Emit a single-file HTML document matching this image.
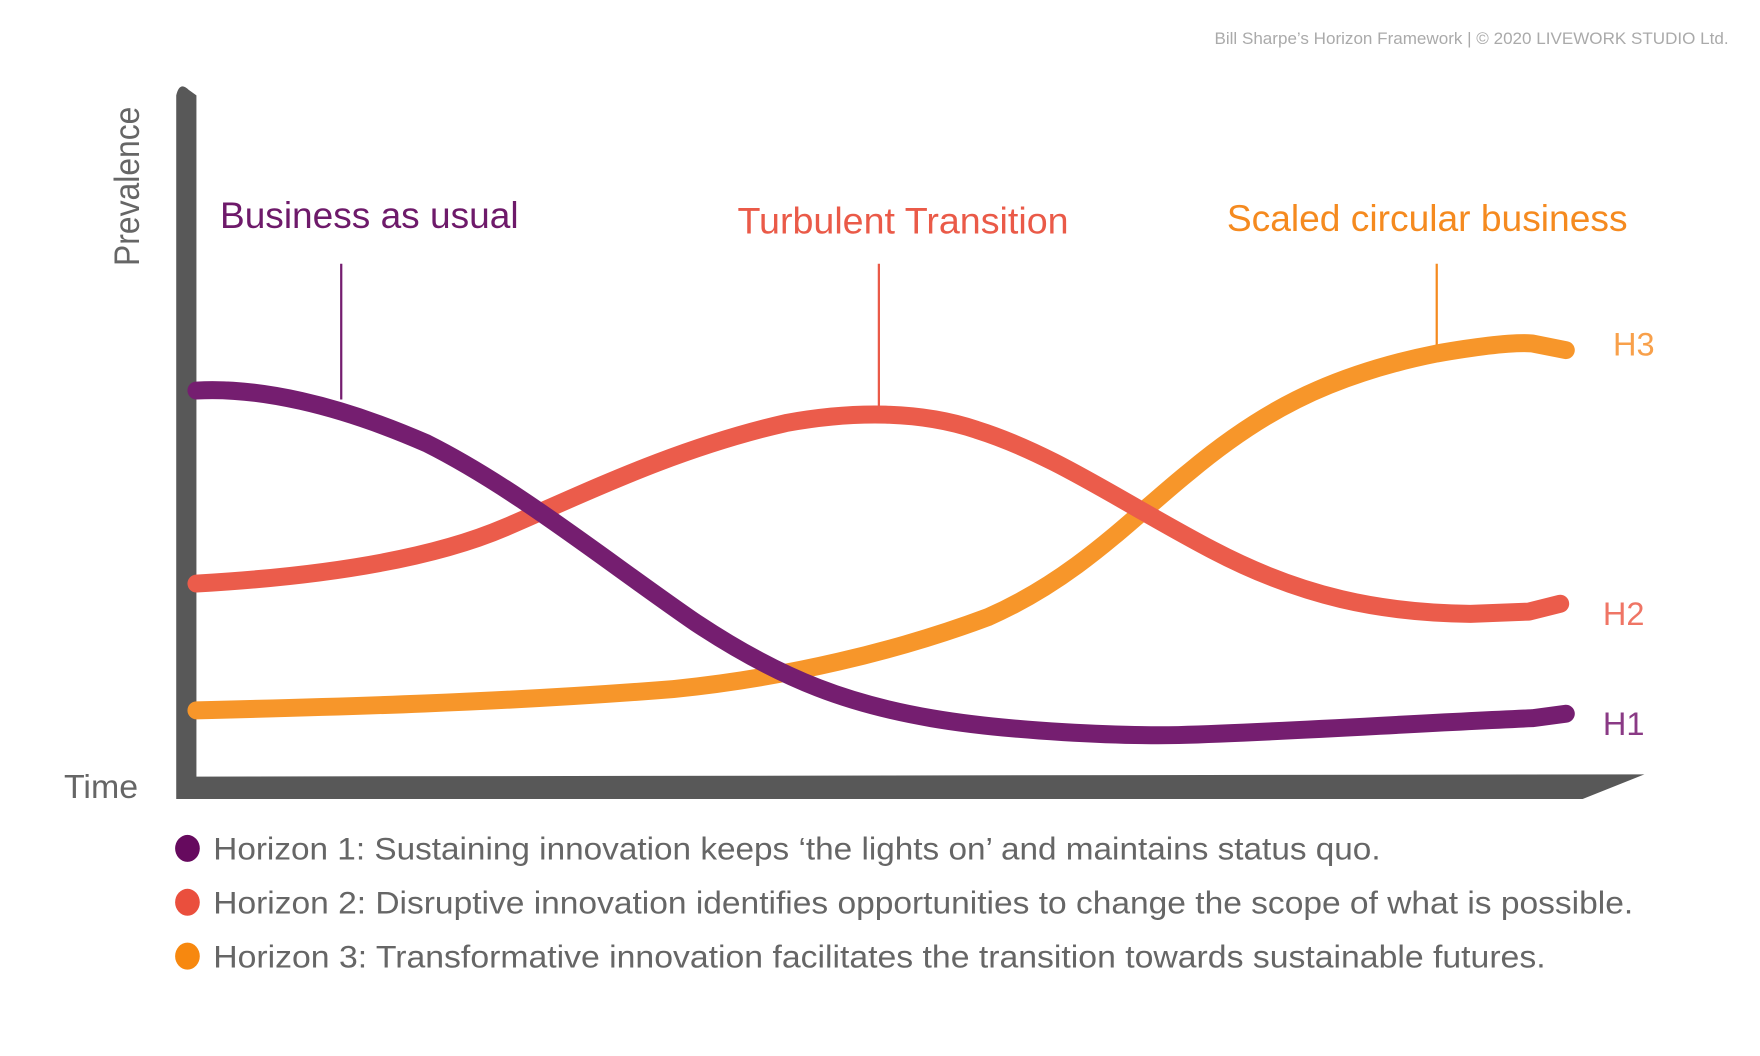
<!DOCTYPE html>
<html><head><meta charset="utf-8"><style>
html,body{margin:0;padding:0;background:#fff;width:1760px;height:1056px;overflow:hidden}
svg{display:block}
text{font-family:"Liberation Sans",sans-serif}
</style></head><body>
<svg width="1760" height="1056" viewBox="0 0 1568 941" preserveAspectRatio="none">
<text x="1082" y="39" font-size="15" fill="#aaa" textLength="458" lengthAdjust="spacingAndGlyphs">Bill Sharpe’s Horizon Framework | © 2020 LIVEWORK STUDIO Ltd.</text>
<!-- axes -->
<path d="M157,85 Q160,72 168,80 L175,85 L175,692 L1465,690 L1410,712 L157,712 Z" fill="#585858"/>
<text transform="translate(124,237) rotate(-90)" font-size="31" fill="#666" textLength="142" lengthAdjust="spacingAndGlyphs">Prevalence</text>
<text x="57" y="711" font-size="30" fill="#666" textLength="66" lengthAdjust="spacingAndGlyphs">Time</text>
<!-- titles -->
<text x="196" y="203" font-size="33" fill="#6e1a6a" textLength="266" lengthAdjust="spacingAndGlyphs">Business as usual</text>
<text x="657" y="208" font-size="33" fill="#ea5a48" textLength="295" lengthAdjust="spacingAndGlyphs">Turbulent Transition</text>
<text x="1093" y="206" font-size="33" fill="#f58a1f" textLength="357" lengthAdjust="spacingAndGlyphs">Scaled circular business</text>
<line x1="304" y1="235" x2="304" y2="356" stroke="#751e70" stroke-width="2"/>
<line x1="783" y1="235" x2="783" y2="366" stroke="#ea5a48" stroke-width="2"/>
<line x1="1280" y1="235" x2="1280" y2="312" stroke="#f58a1f" stroke-width="2"/>
<!-- curves -->
<g fill="none" stroke-width="16" stroke-linecap="round" stroke-linejoin="round">
<path stroke="#f7962a" d="M175,633 C300,630 450,626 600,614 C700,604 800,580 880,550 C960,515 1010,460 1060,420 C1120,370 1180,335 1280,315 C1320,308 1350,305 1365,306 L1395,312"/>
<path stroke="#eb5c4b" d="M175,520 C280,514 380,500 450,470 C520,440 600,400 700,377 C760,366 820,366 870,383 C940,405 1000,448 1080,490 C1160,532 1230,546 1310,547 L1362,545 L1390,538"/>
<path stroke="#751e70" d="M175,348 C230,345 300,360 380,395 C460,435 540,500 620,555 C700,608 760,628 830,640 C900,652 1000,656 1050,655 C1150,652 1250,645 1365,640 L1395,636"/>
</g>
<text x="1437" y="317" font-size="29" fill="#f8a04a">H3</text>
<text x="1428" y="557" font-size="29" fill="#ef7565">H2</text>
<text x="1428" y="655" font-size="29" fill="#8a3a85">H1</text>
<!-- legend -->
<ellipse cx="167" cy="756" rx="11" ry="12" fill="#660a5e"/>
<ellipse cx="167" cy="804" rx="11" ry="12" fill="#ea4f3d"/>
<ellipse cx="167" cy="852" rx="11" ry="12" fill="#f7880f"/>
<g font-size="28" fill="#666">
<text x="190" y="766" textLength="1040" lengthAdjust="spacingAndGlyphs">Horizon 1: Sustaining innovation keeps ‘the lights on’ and maintains status quo.</text>
<text x="190" y="814" textLength="1265" lengthAdjust="spacingAndGlyphs">Horizon 2: Disruptive innovation identifies opportunities to change the scope of what is possible.</text>
<text x="190" y="862" textLength="1187" lengthAdjust="spacingAndGlyphs">Horizon 3: Transformative innovation facilitates the transition towards sustainable futures.</text>
</g>
</svg>
</body></html>
